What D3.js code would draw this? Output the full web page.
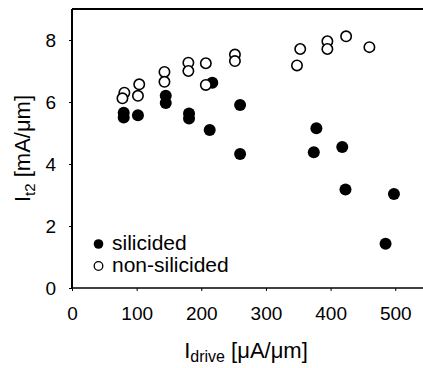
<!DOCTYPE html>
<html>
<head>
<meta charset="utf-8">
<script src="https://cdn.jsdelivr.net/npm/d3@7"></script>
<style>
  body { margin: 0; background: #fff; }
  svg { display: block; font-family: "Liberation Sans", Arial, sans-serif; }
</style>
</head>
<body>
<div id="root"></div>
<script>
// silicided devices (filled dots)
var silicidedX = [80, 80, 102, 145, 145, 181, 181, 217, 213, 260, 260, 378, 374, 418, 423, 498, 485];
var silicidedY = [5.65, 5.5, 5.57, 6.2, 5.97, 5.63, 5.47, 6.62, 5.1, 5.9, 4.32, 5.15, 4.38, 4.55, 3.18, 3.03, 1.43];
// non-silicided devices (open circles)
var nonSilicidedX = [81, 78, 104, 102, 143, 143, 180, 180, 207, 207, 252, 252, 353, 348, 395, 395, 424, 460];
var nonSilicidedY = [6.3, 6.12, 6.57, 6.2, 6.97, 6.65, 7.27, 7.0, 7.25, 6.55, 7.53, 7.32, 7.71, 7.18, 7.96, 7.71, 8.12, 7.77];
var xTicks = [0, 100, 200, 300, 400, 500];
var yTicks = [0, 2, 4, 6, 8];
var legendLabels = ["silicided", "non-silicided"];

var w = 423, h = 368;
var margin = {top: 9, right: -2, bottom: 80, left: 72};

var svg = d3.select("#root").append("svg").attr("width", w).attr("height", h);

var xScale = d3.scaleLinear().domain([0, 546]).range([margin.left, w - margin.right]);
var yScale = d3.scaleLinear().domain([0, 9]).range([h - margin.bottom, margin.top]);

var filled = silicidedX.map(function(x, i) { return {x: x, y: silicidedY[i]}; });
var open = nonSilicidedX.map(function(x, i) { return {x: x, y: nonSilicidedY[i]}; });

// frame
svg.append("line").attr("x1", xScale(0)).attr("x2", w).attr("y1", yScale(9)).attr("y2", yScale(9))
  .attr("stroke", "#000").attr("stroke-width", 2);

// axes
var xAxis = d3.axisBottom(xScale).tickValues(xTicks).tickSize(3).tickSizeOuter(0).tickPadding(16);
var gx = svg.append("g").attr("transform", "translate(0," + yScale(0) + ")").call(xAxis);
gx.select(".domain").remove();
gx.selectAll("text").style("font-size", "19px").attr("fill", "#000");

var yAxis = d3.axisLeft(yScale).tickValues(yTicks).tickSize(3).tickSizeOuter(0).tickPadding(13);
var gy = svg.append("g").attr("transform", "translate(" + xScale(0) + ",0)").call(yAxis);
gy.select(".domain").remove();
gy.selectAll("text").style("font-size", "19px").attr("fill", "#000");

svg.append("line").attr("x1", xScale(0)).attr("x2", xScale(0)).attr("y1", yScale(9)).attr("y2", yScale(0))
  .attr("stroke", "#000").attr("stroke-width", 2);
svg.append("line").attr("x1", xScale(0)).attr("x2", w).attr("y1", yScale(0)).attr("y2", yScale(0))
  .attr("stroke", "#000").attr("stroke-width", 1.6);

// points
svg.selectAll(".dot").data(filled).enter().append("circle").attr("class", "dot")
  .attr("cx", function(d) { return xScale(d.x); })
  .attr("cy", function(d) { return yScale(d.y); })
  .attr("r", 6).attr("fill", "#000");

svg.selectAll(".ring").data(open).enter().append("circle").attr("class", "ring")
  .attr("cx", function(d) { return xScale(d.x); })
  .attr("cy", function(d) { return yScale(d.y); })
  .attr("r", 5.2).attr("fill", "#fff").attr("stroke", "#000").attr("stroke-width", 1.6);

// legend
var lg = svg.append("g");
lg.append("circle").attr("cx", 98.5).attr("cy", 244).attr("r", 4.8).attr("fill", "#000");
lg.append("circle").attr("cx", 98.5).attr("cy", 266).attr("r", 4.3).attr("fill", "#fff").attr("stroke", "#000").attr("stroke-width", 1.3);
lg.selectAll("text").data(legendLabels).enter().append("text")
  .attr("x", 112).attr("y", function(d, i) { return 250 + i * 22; })
  .style("font-size", "21px").text(function(d) { return d; });

// axis titles
var xt = svg.append("text").attr("x", 246).attr("y", 358).attr("text-anchor", "middle").style("font-size", "22px");
xt.append("tspan").text("I");
xt.append("tspan").attr("dy", 4).style("font-size", "16px").text("drive");
xt.append("tspan").attr("dy", -4).text(" [μA/μm]");

var yt = svg.append("text").attr("transform", "translate(30," + yScale(4.5) + ") rotate(-90)")
  .attr("text-anchor", "middle").style("font-size", "22px");
yt.append("tspan").text("I");
yt.append("tspan").attr("dy", 5).style("font-size", "15px").text("t2");
yt.append("tspan").attr("dy", -5).text(" [mA/μm]");
</script>
</body>
</html>
